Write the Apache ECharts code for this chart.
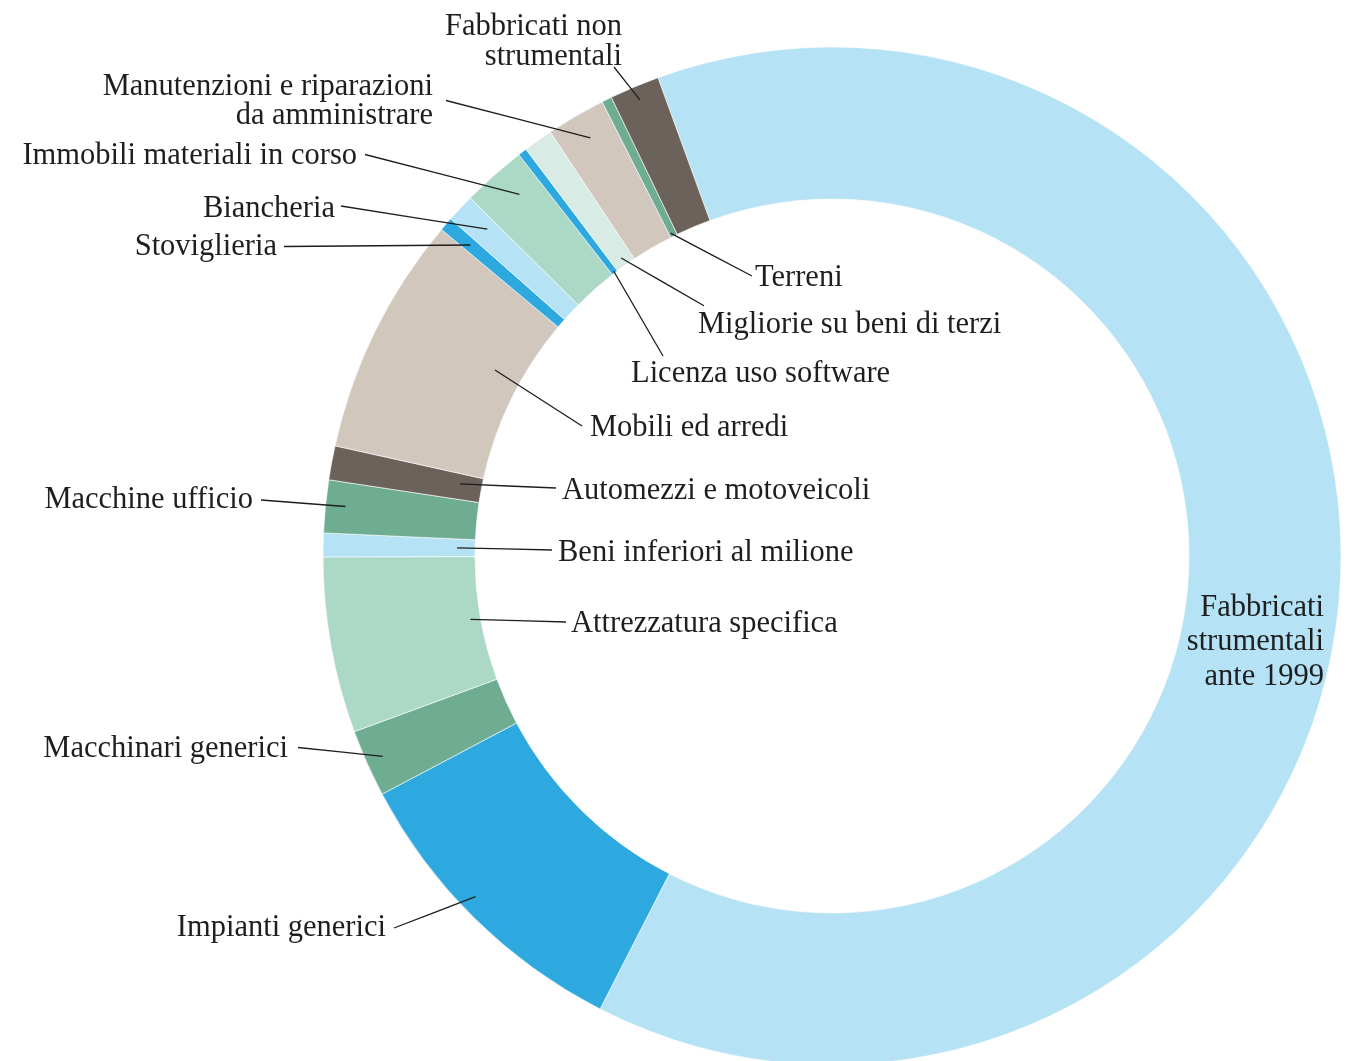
<!DOCTYPE html>
<html>
<head>
<meta charset="utf-8">
<script src="https://cdn.jsdelivr.net/npm/echarts@6/dist/echarts.min.js"></script>
<style>
html,body{margin:0;padding:0;background:#ffffff;}
#chart{width:1351px;height:1061px;}
</style>
</head>
<body>
<div id="chart"></div>
<script>
// ---- data (clockwise from the top-left start of the largest slice) ----
const categories = [
  "Fabbricati strumentali ante 1999",
  "Impianti generici",
  "Macchinari generici",
  "Attrezzatura specifica",
  "Beni inferiori al milione",
  "Macchine ufficio",
  "Automezzi e motoveicoli",
  "Mobili ed arredi",
  "Stoviglieria",
  "Biancheria",
  "Immobili materiali in corso",
  "Licenza uso software",
  "Migliorie su beni di terzi",
  "Manutenzioni e riparazioni da amministrare",
  "Terreni",
  "Fabbricati non strumentali"
];
const values = [63.08, 9.72, 2.14, 5.58, 0.75, 1.67, 1.08, 7.61, 0.44, 0.89, 2.04, 0.28, 0.93, 1.88, 0.32, 1.58];
const labelTexts = [
  "Fabbricati\nstrumentali\nante 1999",
  "Impianti generici",
  "Macchinari generici",
  "Attrezzatura specifica",
  "Beni inferiori al milione",
  "Macchine ufficio",
  "Automezzi e motoveicoli",
  "Mobili ed arredi",
  "Stoviglieria",
  "Biancheria",
  "Immobili materiali in corso",
  "Licenza uso software",
  "Migliorie su beni di terzi",
  "Manutenzioni e riparazioni\nda amministrare",
  "Terreni",
  "Fabbricati non\nstrumentali"
];

// ---- styles ----
const C_LIGHTBLUE = "#b5e2f4", C_BLUE = "#2ea9e0", C_GREEN = "#6fad93",
      C_MINT = "#acd9c5", C_PALEMINT = "#d8ebe5", C_BEIGE = "#d2c7bd", C_BROWN = "#6b625c";
const colors = [C_LIGHTBLUE, C_BLUE, C_GREEN, C_MINT, C_LIGHTBLUE, C_GREEN, C_BROWN, C_BEIGE,
                C_BLUE, C_LIGHTBLUE, C_MINT, C_BLUE, C_PALEMINT, C_BEIGE, C_GREEN, C_BROWN];

const CX = 832, CY = 556, R_IN = 357, R_OUT = 509;
const START_CW = -20; // degrees clockwise from 12 o'clock
const TEXT_DY = 3;    // font baseline correction

// label placement: [textX, textY, align, lineStartRadius, angleAdjust, lineEndDx, lineEndDy, lineHeight, textDy]
const labelPlace = [
  [1324, 642, 'right', null, 0, 0, 0, 34.5, 0],
  [386, 925, 'right', 493, 1.7, 8, 3, 30, TEXT_DY],
  [288, 745.5, 'right', 492, 0, 10, 2, 30, TEXT_DY],
  [571, 621, 'left', 367, 0.2, -5, 1, 30, TEXT_DY],
  [558, 550, 'left', 375, 0, -6, 0, 30, TEXT_DY],
  [253, 497, 'right', 489, 0.2, 8, 3, 30, TEXT_DY],
  [562, 488, 'left', 379, 0.4, -6, 0, 30, TEXT_DY],
  [590, 425, 'left', 385, 2.7, -8, 1, 30, TEXT_DY],
  [277, 244, 'right', 477, 0, 7, 2.5, 30, TEXT_DY],
  [335, 206, 'right', 475, 0.4, 6, 0, 30, TEXT_DY],
  [357, 152.5, 'right', 478, 0.8, 8, 2, 30, TEXT_DY],
  [631, 371, 'left', 359, 0, 32, -15, 30, TEXT_DY],
  [698, 321.7, 'left', 365, 0, 6, -16, 30, TEXT_DY],
  [433, 98.5, 'right', 483, 0.2, 13, 2, 29, TEXT_DY],
  [755, 275, 'left', 361, -0.3, -3, 1, 30, TEXT_DY],
  [622, 39, 'right', 495, 0, -8, 28, 30, TEXT_DY]
];

const total = values.reduce((a, b) => a + b, 0);
const midAngles = [];
let acc = 0;
values.forEach(v => {
  midAngles.push(START_CW + (acc + v / 2) / total * 360);
  acc += v;
});

function polar(deg, r) {
  const a = deg * Math.PI / 180;
  return [CX + r * Math.sin(a), CY - r * Math.cos(a)];
}

const ringData = categories.map((name, i) => ({
  name: name,
  value: values[i],
  itemStyle: { color: colors[i] }
}));

const labelData = categories.map((name, i) => ({
  name: name,
  value: values[i],
  itemStyle: { color: 'rgba(0,0,0,0)', borderWidth: 0 },
  label: { lineHeight: labelPlace[i][7] },
  labelLine: { show: labelPlace[i][3] != null }
}));

const common = {
  type: 'pie',
  center: [CX, CY],
  radius: [R_IN, R_OUT],
  startAngle: 90 - START_CW,
  clockwise: true,
  avoidLabelOverlap: false,
  minAngle: 0,
  emphasis: { disabled: true },
  silent: true
};

const chart = echarts.init(document.getElementById('chart'), null, { renderer: 'canvas' });
chart.setOption({
  backgroundColor: '#ffffff',
  animation: false,
  series: [
    Object.assign({}, common, {
      name: 'ring',
      z: 2,
      itemStyle: { borderColor: '#ffffff', borderWidth: 0.6 },
      label: { show: false },
      labelLine: { show: false },
      data: ringData
    }),
    Object.assign({}, common, {
      name: 'labels',
      z: 5,
      label: {
        show: true,
        position: 'outside',
        overflow: 'none',
        fontFamily: '"Liberation Serif", "DejaVu Serif", serif',
        fontSize: 30.5,
        color: '#1e1e1e',
        formatter: p => labelTexts[p.dataIndex]
      },
      labelLine: {
        show: true,
        lineStyle: { color: '#1e1e1e', width: 1.3 }
      },
      labelLayout: function (params) {
        const i = params.dataIndex;
        const lp = labelPlace[i];
        const out = { x: lp[0], y: lp[1] + lp[8], align: lp[2], verticalAlign: 'middle' };
        if (lp[3] != null) {
          const s = polar(midAngles[i] + lp[4], lp[3]);
          const e = [lp[0] + lp[5], lp[1] + lp[6]];
          out.labelLinePoints = [s, [(s[0] + e[0]) / 2, (s[1] + e[1]) / 2], e];
        }
        return out;
      },
      data: labelData
    })
  ]
});
</script>
</body>
</html>
